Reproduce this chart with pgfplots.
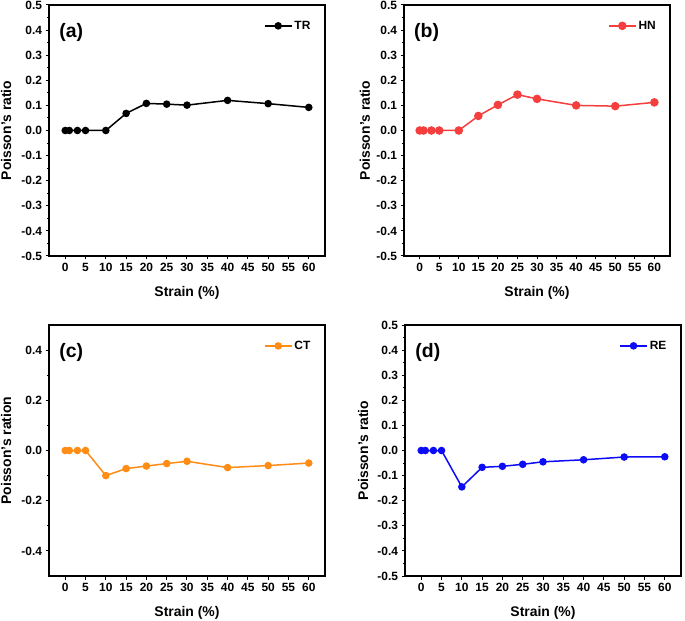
\documentclass[border=0pt]{standalone}
\usepackage{fontspec}
\setmainfont{Liberation Sans}
\usepackage{pgfplots}
\pgfplotsset{compat=1.18}

\definecolor{cTR}{RGB}{0,0,0}
\definecolor{cHN}{RGB}{245,62,62}
\definecolor{cCT}{RGB}{255,140,20}
\definecolor{cRE}{RGB}{12,12,245}

\pgfplotsset{
 panel/.style={
  scale only axis, width=276bp, height=251bp,
  xmin=-4, xmax=64, ymin=-0.5, ymax=0.5,
  xtick={0,5,10,15,20,25,30,35,40,45,50,55,60},
  ytick={-0.5,-0.4,-0.3,-0.2,-0.1,0,0.1,0.2,0.3,0.4,0.5},
  minor y tick num=1,
  axis line style={line width=1.2bp},
  every tick/.style={black, line width=1bp},
  tick align=outside, tick pos=left,
  major tick length=3.5bp, minor tick length=2bp,
  tick label style={font=\fontsize{12}{13}\selectfont\bfseries},
  /pgf/number format/assume math mode=true,
  yticklabel style={/pgf/number format/.cd, fixed, fixed zerofill, precision=1},
  label style={font=\fontsize{14}{16}\selectfont\bfseries},
  xlabel={Strain (\%)},
  xlabel style={at={(axis description cs:0.5,-0.147)}, anchor=center},
  ylabel style={anchor=center},
  legend style={draw=none, fill=none, font=\fontsize{12}{13}\selectfont\bfseries,
    at={(axis description cs:0.955,0.945)}, anchor=north east, inner sep=0pt},
  legend image code/.code={\draw[mark repeat=2, mark phase=2, ##1] plot coordinates {(0bp,0bp) (13.5bp,0bp) (27bp,0bp)};},
 },
 series/.style={line width=1.5bp, mark=*, mark size=3bp, color=#1, mark options={solid, fill=#1}},
}

\begin{document}
\begin{tikzpicture}
\useasboundingbox (0,0) rectangle (685bp,621bp);

% (a)
\begin{axis}[panel, at={(49bp,365bp)}, anchor=south west,
  ylabel={Poisson's ratio},
  ylabel style={at={(axis description cs:-0.155,0.5)}}]
\addplot[series=cTR] coordinates {(0,0) (1,0) (3,0) (5,0) (10,0) (15,0.068) (20,0.108) (25,0.105) (30,0.101) (40,0.120) (50,0.107) (60,0.092)};
\addlegendentry{TR}
\node[anchor=west, font=\fontsize{19.5}{21}\selectfont\bfseries] at (rel axis cs:0.025,0.89) {(a)};
\end{axis}

% (b)
\begin{axis}[panel, width=266bp, at={(404bp,365bp)}, anchor=south west,
  ylabel={Poisson's ratio},
  ylabel style={at={(axis description cs:-0.147,0.5)}}]
\addplot[series=cHN, mark size=3.5bp] coordinates {(0,0) (1,0) (3,0) (5,0) (10,0) (15,0.058) (20,0.102) (25,0.143) (30,0.126) (40,0.100) (50,0.097) (60,0.112)};
\addlegendentry{HN}
\node[anchor=west, font=\fontsize{19.5}{21}\selectfont\bfseries] at (rel axis cs:0.025,0.89) {(b)};
\end{axis}

% (c)
\begin{axis}[panel, at={(49bp,45bp)}, anchor=south west,
  ytick={-0.4,-0.2,0,0.2,0.4},
  ylabel={Poisson's ration},
  ylabel style={at={(axis description cs:-0.155,0.5)}}]
\addplot[series=cCT] coordinates {(0,0) (1,0) (3,0) (5,0) (10,-0.100) (15,-0.072) (20,-0.062) (25,-0.052) (30,-0.043) (40,-0.068) (50,-0.060) (60,-0.050)};
\addlegendentry{CT}
\node[anchor=west, font=\fontsize{19.5}{21}\selectfont\bfseries] at (rel axis cs:0.025,0.89) {(c)};
\end{axis}

% (d)
\begin{axis}[panel, at={(405bp,45bp)}, anchor=south west,
  ylabel={Poisson's ratio},
  ylabel style={at={(axis description cs:-0.152,0.5)}}]
\addplot[series=cRE] coordinates {(0,0) (1,0) (3,0) (5,0) (10,-0.145) (15,-0.067) (20,-0.063) (25,-0.055) (30,-0.045) (40,-0.037) (50,-0.026) (60,-0.025)};
\addlegendentry{RE}
\node[anchor=west, font=\fontsize{19.5}{21}\selectfont\bfseries] at (rel axis cs:0.025,0.89) {(d)};
\end{axis}
\end{tikzpicture}
\end{document}
